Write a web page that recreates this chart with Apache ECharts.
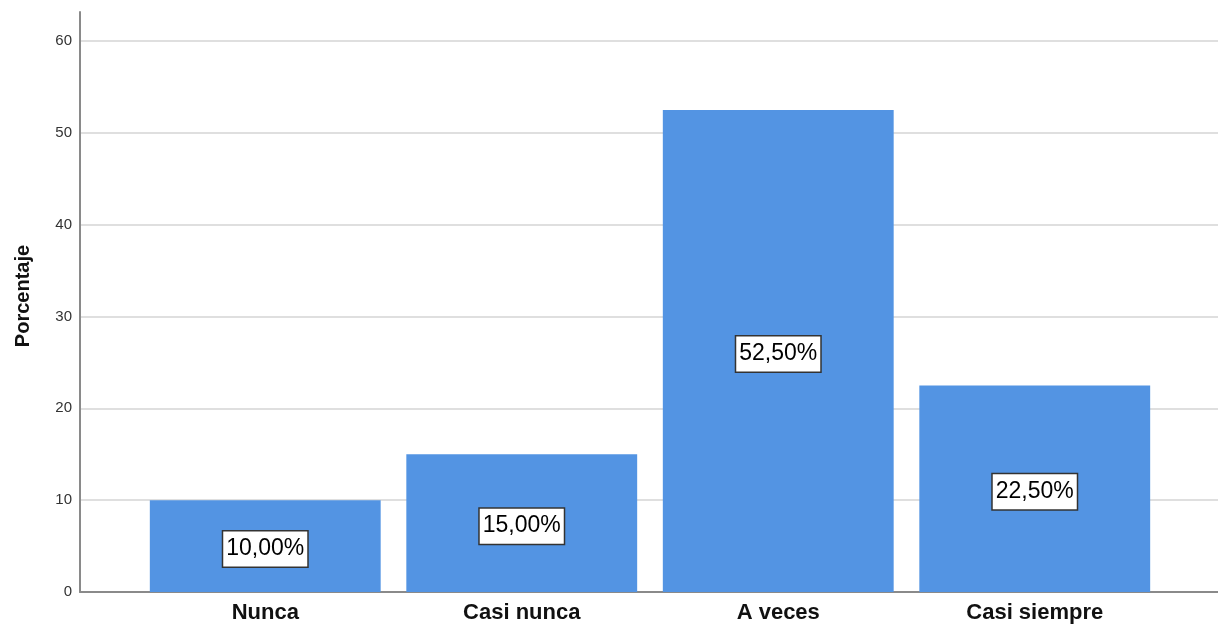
<!DOCTYPE html>
<html>
<head>
<meta charset="utf-8">
<script src="https://cdn.jsdelivr.net/npm/echarts@6/dist/echarts.min.js"></script>
<style>
html,body{margin:0;padding:0;background:#fff;}
#chart{width:1218px;height:627px;}
</style>
</head>
<body>
<div id="chart"></div>
<script>
const categories = ['Nunca', 'Casi nunca', 'A veces', 'Casi siempre'];
const percentages = [10, 15, 52.5, 22.5];
const yTicks = { min: 0, max: 60, interval: 10 };
const yAxisTitle = 'Porcentaje';

const chart = echarts.init(document.getElementById('chart'), null, { renderer: 'canvas' });
const font = 'Liberation Sans, Arial, sans-serif';
const axisGray = '#8a8a8a';

chart.setOption({
  animation: false,
  backgroundColor: '#ffffff',
  grid: [
    { left: 80, right: -2, top: 12, bottom: 35, outerBoundsMode: 'none', containLabel: false },
    { left: 80, right: -2, top: 41, bottom: 35, outerBoundsMode: 'none', containLabel: false },
    { left: 137, right: 55, top: 41, bottom: 35, outerBoundsMode: 'none', containLabel: false }
  ],
  xAxis: [
    { gridIndex: 0, type: 'value', show: false },
    { gridIndex: 1, type: 'value', min: 0, max: 1,
      axisLine: { show: true, lineStyle: { color: axisGray, width: 2 } },
      axisTick: { show: false }, axisLabel: { show: false }, splitLine: { show: false } },
    { gridIndex: 2, type: 'category', data: categories, boundaryGap: true,
      axisLine: { show: false }, axisTick: { show: false },
      axisLabel: { color: '#111', fontFamily: font, fontWeight: 'bold', fontSize: 22, margin: 10 } }
  ],
  yAxis: [
    { gridIndex: 0, type: 'value', min: 0, max: 63.16,
      name: yAxisTitle, nameLocation: 'middle', nameRotate: 90, nameGap: 47,
      nameTextStyle: { color: '#111', fontFamily: font, fontWeight: 'bold', fontSize: 20, padding: [0, 0, 0, 12] },
      axisLine: { show: true, lineStyle: { color: axisGray, width: 2 } },
      axisTick: { show: false }, axisLabel: { show: false }, splitLine: { show: false } },
    { gridIndex: 1, type: 'value', min: yTicks.min, max: yTicks.max, interval: yTicks.interval,
      axisLine: { show: false }, axisTick: { show: false },
      axisLabel: { color: '#333', fontFamily: font, fontSize: 15, margin: 8 },
      splitLine: { show: true, lineStyle: { color: '#d4d4d4', width: 1.5 } } },
    { gridIndex: 2, type: 'value', min: yTicks.min, max: yTicks.max, show: false }
  ],
  series: [{
    type: 'bar',
    xAxisIndex: 2,
    yAxisIndex: 2,
    data: percentages,
    barCategoryGap: '10%',
    itemStyle: { color: '#5394e3' },
    label: {
      show: true,
      position: 'inside',
      offset: [0, 3],
      formatter: p => p.value.toFixed(2).replace('.', ',') + '%',
      color: '#000',
      fontFamily: font,
      fontSize: 23,
      lineHeight: 26,
      backgroundColor: '#ffffff',
      borderColor: '#333',
      borderWidth: 1.5,
      padding: [5, 3, 4, 3]
    }
  }]
});
</script>
</body>
</html>
